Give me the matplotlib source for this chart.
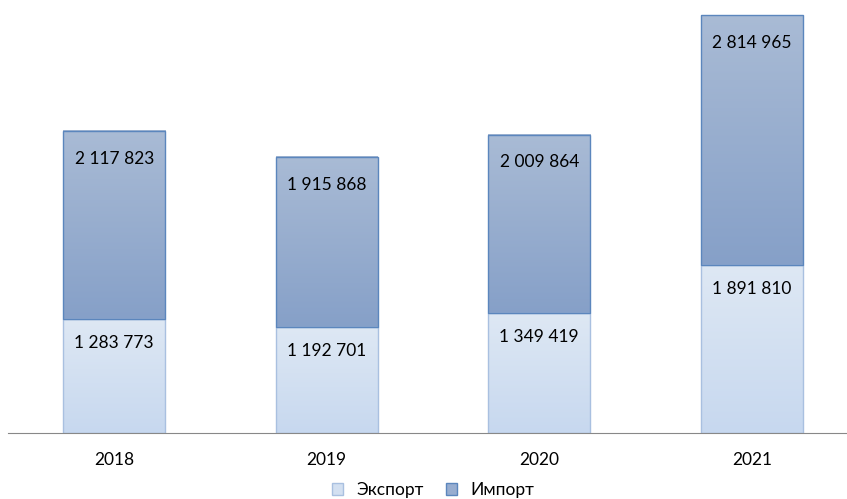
import numpy as np
import matplotlib
matplotlib.use("Agg")
import matplotlib.pyplot as plt
from matplotlib.patches import Patch
from matplotlib.colors import LinearSegmentedColormap

years = ["2018", "2019", "2020", "2021"]
export = [1283773, 1192701, 1349419, 1891810]
imports = [2117823, 1915868, 2009864, 2814965]


def fmt(v):
    return "{:,}".format(v).replace(",", " ")


plt.rcParams['font.family'] = ['Lato', 'DejaVu Sans']

fig = plt.figure(figsize=(8.47, 4.99), dpi=100)
ax = fig.add_axes([8 / 847, 66 / 499, 839 / 847, 433 / 499])

exp_cmap = LinearSegmentedColormap.from_list("exp", ["#c7d8ef", "#dee8f4"])
imp_cmap = LinearSegmentedColormap.from_list("imp", ["#86a0c8", "#a9bbd5"])
grad = np.linspace(0, 1, 256).reshape(-1, 1)

w = 0.48
x = np.arange(len(years))
for i in x:
    e = export[i]
    m = imports[i]
    ax.imshow(grad, cmap=exp_cmap, origin="lower", aspect="auto",
              extent=(i - w / 2, i + w / 2, 0, e), zorder=1)
    ax.imshow(grad, cmap=imp_cmap, origin="lower", aspect="auto",
              extent=(i - w / 2, i + w / 2, e, e + m), zorder=1)
    ax.bar(i, e, w, fill=False, edgecolor="#a9c0e0", linewidth=1, zorder=2)
    ax.bar(i, m, w, bottom=e, fill=False, edgecolor="#5b86bd", linewidth=1, zorder=2)
    ax.annotate(fmt(e), (i, e), xytext=(0, -17), textcoords="offset points",
                ha="center", va="center", fontsize=12.5, color="#000000", zorder=3)
    ax.annotate(fmt(m), (i, e + m), xytext=(0, -20), textcoords="offset points",
                ha="center", va="center", fontsize=12.5, color="#000000", zorder=3)

ax.set_xlim(-0.5, -0.5 + 839 / 212.5)
ax.set_ylim(0, 433 / 8.88e-5)
for s in ["top", "right", "left"]:
    ax.spines[s].set_visible(False)
ax.spines["bottom"].set_color("#888888")
ax.set_yticks([])
ax.set_xticks(x)
ax.set_xticklabels(years, fontsize=12.5)
ax.tick_params(axis="x", length=0, pad=14)

handles = [Patch(facecolor="#d3e0f1", edgecolor="#a9c0e0", label="Экспорт"),
           Patch(facecolor="#97add0", edgecolor="#5b86bd", label="Импорт")]
fig.legend(handles=handles, loc="center", bbox_to_anchor=(433 / 847, 9 / 499),
           ncol=2, frameon=False, fontsize=12.5, handlelength=0.65, handleheight=0.65,
           handletextpad=0.75, columnspacing=1.3)

fig.savefig("out.png", dpi=100)
